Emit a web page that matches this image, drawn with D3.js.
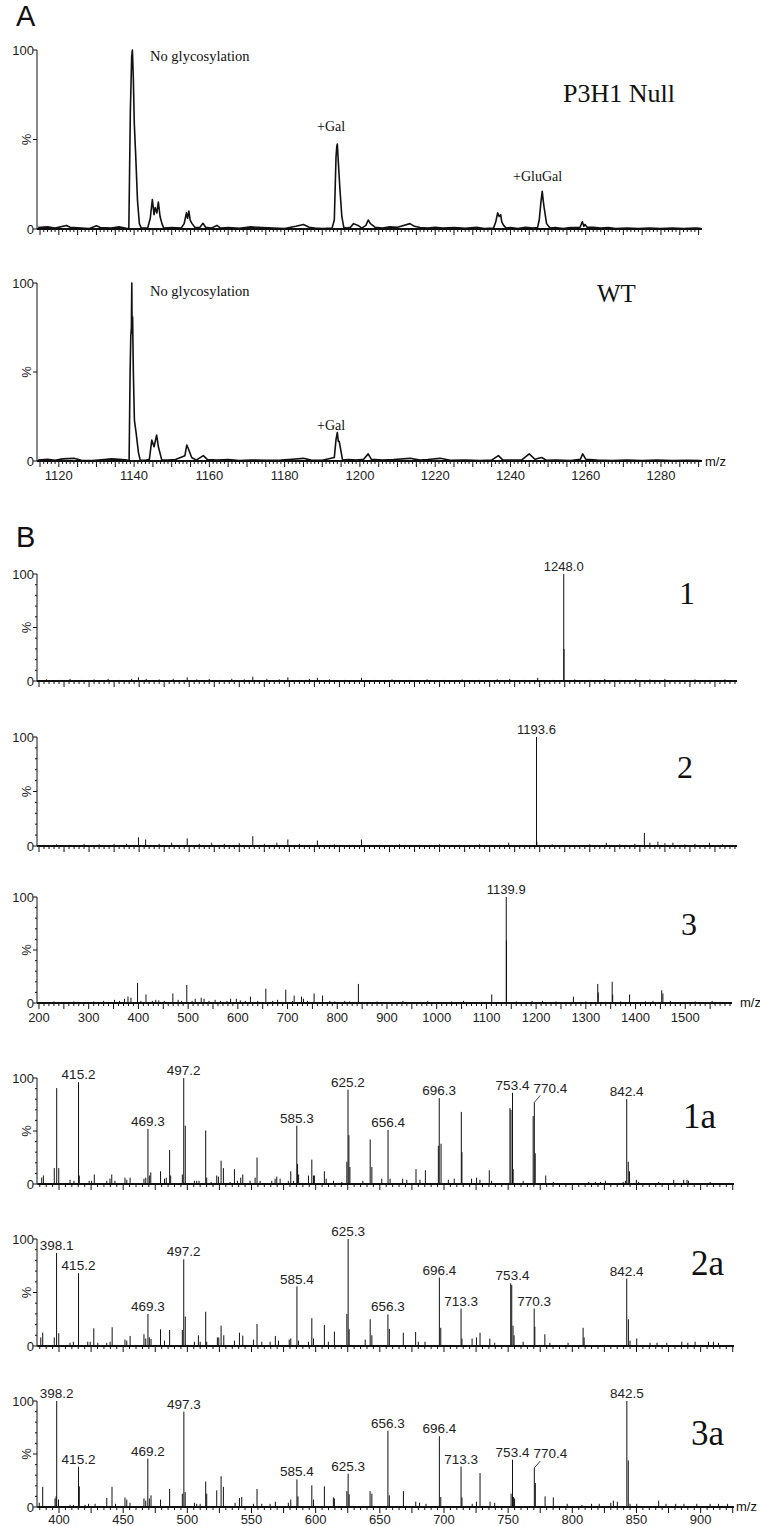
<!DOCTYPE html>
<html>
<head>
<meta charset="utf-8">
<script src="https://cdn.jsdelivr.net/npm/d3@7"></script>
<style>
  body { margin: 0; background: #fff; }
  .sans { font-family: "Liberation Sans", Arial, sans-serif; }
  .serif { font-family: "Liberation Serif", "Times New Roman", serif; }
</style>
</head>
<body>
<svg id="fig" width="760" height="1526"></svg>
<script>
// ---------- panel A : profile spectra, [m/z, %] ----------
const nullProfile = [
  [1114.5,0.8],[1117,1.2],[1119,0.5],[1122,2.0],[1123,1.0],[1126,0.6],[1128,0.2],[1130,1.8],[1131,0.8],[1134,0.5],[1136,1.2],[1138.2,0.3],
  [1138.6,0],[1139.0,65],[1139.35,96],[1139.55,100],[1139.8,84],[1140.05,59],[1140.45,40],[1140.9,16],[1141.4,3],[1141.9,0.5],
  [1143.6,0.5],[1144.3,6],[1144.85,16.5],[1145.3,8],[1145.6,12],[1146.05,9],[1146.45,15],[1146.9,7],[1147.4,3],[1147.9,0.5],
  [1150,0.8],[1152.5,0.5],[1153.3,3],[1153.9,9],[1154.2,6],[1154.55,10],[1154.9,5],[1155.4,3],[1156.2,0.8],
  [1157.5,1.0],[1158.3,3.2],[1159.0,1.0],[1160.5,0.5],[1162,2.0],[1163,0.5],[1165,0.8],[1168,0.4],[1171,1.2],[1174,0.8],[1177,0.5],
  [1180,0.3],[1183,1.5],[1185,2.5],[1186.5,1.0],[1188,0.5],[1190,0.3],
  [1192.6,0.5],[1193.2,5],[1193.65,40],[1193.85,46],[1194.0,47.5],[1194.25,38],[1194.7,22],[1195.2,7],[1195.7,1],[1196.5,0.5],
  [1197.5,1],[1198.3,3],[1199.5,2],[1200.5,0.5],[1201.6,2],[1202.2,5],[1202.8,3],[1204,1],[1206,0.5],[1208,1.2],[1210,1.0],
  [1213.3,3],[1214.5,1.5],[1216,0.8],[1218,0.5],[1220,1.0],[1222,0.5],[1225,0.8],[1228,0.4],[1231,0.9],[1233,0.3],
  [1235.5,0.5],[1236.1,4],[1236.6,9],[1237.0,7],[1237.4,8],[1237.7,4],[1238.2,2],[1238.9,0.5],[1240,0.8],[1242,0.3],[1244,1.0],[1246,0.5],
  [1247.2,0.8],[1247.65,5],[1248.1,15],[1248.45,21],[1248.7,16],[1248.95,12],[1249.6,3],[1250.5,0.5],[1252,0.8],[1254,0.3],[1256,0.8],
  [1258.5,1.0],[1259.1,4],[1259.5,1.5],[1259.8,2.5],[1260.4,1],[1262,1.0],[1264,0.5],[1266,0.8],[1268,0.3],[1271,0.5],[1274,0.3],
  [1277,0.6],[1280,0.3],[1283,0.5],[1286,0.3],[1289,0.5],[1290.5,0.4]
];
const wtProfile = [
  [1114.5,0.6],[1117,1.0],[1119,0.4],[1121,1.2],[1124,1.5],[1126,0.4],[1129,0.3],[1132,0.8],[1134,1.2],[1136,1.0],[1138.2,0.5],
  [1138.67,0],[1138.94,50],[1139.12,70],[1139.28,75],[1139.39,100],[1139.47,72],[1139.6,81],[1139.81,49],[1140.08,23],[1140.53,16],[1141.14,5],[1141.6,0.5],
  [1143,0.4],[1144.07,1],[1144.7,11.8],[1145.3,8],[1146.0,14.6],[1146.45,8],[1147.36,0.5],[1149,0.5],[1151,0.8],
  [1153.5,3],[1154.0,9],[1154.4,7],[1155.3,2],[1156.5,0.5],[1158.4,3],[1159.5,0.8],[1162,0.5],[1165,0.8],[1168,0.3],[1171,0.6],
  [1175,0.4],[1179,0.5],[1182,1.0],[1185,1.5],[1187,0.5],[1190,0.4],
  [1193.2,2],[1193.65,12],[1194.0,16],[1194.26,11],[1194.5,11],[1195.4,0.5],[1197,0.8],[1199,0.5],[1201,1.0],[1202.2,4],[1203,1],
  [1206,0.5],[1209,0.8],[1213.3,1.5],[1216,0.5],[1218,0.8],[1221.3,1.5],[1224,0.4],[1228,0.6],[1232,0.3],[1235,0.5],
  [1236.8,3],[1238,0.5],[1241,0.5],[1243,0.6],[1245.0,4],[1246.5,1],[1248.3,2],[1249.5,0.4],[1252,0.5],[1256,0.3],
  [1258.6,1.0],[1259.2,4],[1260,1],[1263,0.5],[1267,0.3],[1271,0.5],[1275,0.3],[1279,0.5],[1283,0.3],[1287,0.4],[1290.5,0.3]
];
const aTickLabels = [1120, 1140, 1160, 1180, 1200, 1220, 1240, 1260, 1280];

// ---------- panel B : MS spectra (sticks), [m/z, %] ----------
const ms1Peaks = [
  [1248.0,100],[1248.5,30],
  [215,1.5],[240,1],[262,2],[285,1],[310,1.5],[338,2],[360,1],[385,2],[398.6,3.5],[414,2],[440,1.5],[468,2],[496,3.5],[515,1.5],
  [540,2],[560,1],[585,2],[610,1.5],[627,4],[655,2],[680,1.5],[697,3.5],[720,1],[740,2],[756,3],[780,1.5],[810,1],[844,3],
  [870,1],[905,1.5],[940,1],[975,1.5],[1010,1],[1045,1.5],[1080,1],[1115,1.5],[1140,2],[1170,1],[1196,3],[1225,1],[1270,1.5],
  [1300,1],[1330,2],[1360,1],[1392,2],[1420,1.5],[1450,2],[1480,1],[1510,1.5],[1540,1],[1570,1.5]
];
const ms2Peaks = [
  [1193.6,100],[1194.3,4],[1409,12],
  [210,1],[235,1.5],[260,1],[290,2],[320,1.5],[350,2],[375,2],[398.6,8],[413,6],[440,2],[465,3],[496,7],[520,2],[545,3],[570,2],
  [600,2.5],[627,9],[650,2],[675,3],[697,6],[720,2],[756,5],[790,1.5],[820,1],[844,6],[880,1],[920,1.5],[960,1],[1000,1.5],
  [1040,1],[1080,1.5],[1120,1],[1138,3],[1165,1],[1225,1.5],[1260,1],[1300,1.5],[1333,3],[1360,1.5],[1390,2],[1420,3],[1436,4],
  [1450,2.5],[1466,3],[1490,1.5],[1510,2],[1539,3],[1565,1.5],[1585,1]
];
const ms3Peaks = [
  [1139.9,100],[1140.4,59],
  [398.2,19],[415.2,8],[469.3,9],[497.3,17],[514.3,4],[526.3,5],[554.3,3],[585.4,4],[597,4],[625.3,6],[656.3,13.5],[696.4,12.6],
  [713.3,7],[728.1,6],[753.4,9],[770.4,7],[842.5,18],
  [208,1],[230,1.5],[245,1],[270,1.5],[290,1],[310,1.5],[330,2],[352,3],[362,2],[372,4],[379,6],[385,5],[405,2],[428,2],[435,3],
  [441,2.5],[452,2],[480,3],[487,2],[508,2],[532,4],[542,2],[565,2],[578,2],[605,2.5],[615,2],[640,2],[670,2],[680,3],[710,2],
  [732,4],[740,2],[785,2],[795,1.5],[815,2],[825,1.5],[860,1],[880,1.5],[905,1],[932,2],[955,1],[982,2],[1010,1],[1030,1.5],
  [1054,2],[1080,1],[1110.7,8],[1160,1.5],[1192,2],[1213,2],[1240,1.5],[1260,1],[1275,6],[1300,1.5],[1324,18],[1325,10],[1340,1],
  [1353,20],[1354,8],[1370,1.5],[1388,8],[1405,1],[1420,1.5],[1435,2],[1452.6,12],[1455,9],[1470,2],[1490,1],[1520,1.5],[1554,2],[1575,1]
];
const ms1Labels = [[1248.0, "1248.0"]];
const ms2Labels = [[1193.6, "1193.6"]];
const ms3Labels = [[1139.9, "1139.9"]];
const bTickLabels = [200,300,400,500,600,700,800,900,1000,1100,1200,1300,1400,1500];

// ---------- panel B : MS/MS spectra (sticks), [m/z, %] ----------
const msms1Peaks = [
  [386.5,6],[387.8,8],[396.3,15],[398.2,90.5],[399.8,15],[408.6,4],[411.7,3],[415.2,96],[415.8,8],[423.5,3],[425.4,3],[427.5,9],
  [437.2,3],[439.7,5],[441.1,9],[443.6,3],[451.4,6],[452.8,4],[455.4,6],[466.2,5],[467.6,6],[469.3,52],[470.4,8],[471.5,11],
  [479.1,12],[482.2,5],[483.6,6],[486.2,32],[487,8],[496.1,9],[497.2,100],[498.4,55],[505.5,3],[507.3,3],[509.1,3],[514.3,50.5],
  [515.1,6],[518.5,2],[522.9,8],[524.2,7],[526.3,22],[528.1,15],[533.3,2],[536.7,14],[539,3],[541.6,6],[543.2,9],[548.9,3],
  [552.8,6],[554.3,25],[556.7,3],[565.8,3],[568.4,5],[569.7,7],[572.3,5],[578.7,3],[580.6,12],[582.7,3],[585.3,55],[585.9,19],
  [586.7,9],[594.4,8],[597,23],[598.3,8],[599,8],[606.8,12],[608.2,5],[613.9,3],[620.4,2],[624.3,21],[625.2,89],[625.9,46],
  [626.7,16],[636.8,3],[642.5,42],[643.8,16],[651.5,5],[656.4,51],[658,5],[667.8,5],[671,4],[678.2,14],[681.3,4],[685.5,13],
  [695.6,36],[696.3,81],[697.7,38],[703.4,4],[708,5],[713.5,68],[714,30],[721.5,5],[725.4,6],[728,4],[735.3,13],[737.1,3],
  [751.4,71.6],[752.2,70],[753.4,86],[753.9,14],[761.7,3],[769.5,64],[770.4,77],[771.1,29],[779.3,8],[785.2,2],[812.8,2],
  [818,2],[821.9,2],[825.8,3],[839.6,2],[841.4,3],[842.4,80],[843.6,21],[844.6,12],[849.9,4],[851.7,2],[867.3,2],[879,4],
  [886.8,4],[889.4,4],[890.6,3],[907.4,2]
];
const msms2Peaks = [
  [385.8,8],[387.3,12.5],[396.3,8],[398.1,87],[399.8,12],[408.6,3],[411.2,4],[415.2,68],[422.4,4],[424.3,4],[427.1,16.5],[430.2,3],
  [437.2,3],[439.8,4],[441.4,17.5],[451.4,6],[452.8,5],[455.4,9.4],[466.2,11],[467.6,7],[469.3,30],[470.4,8],[471.7,6.5],
  [479.1,15.6],[482.2,5],[486.2,15],[496.1,15],[497.2,81],[498.4,27.5],[505.5,4],[508.6,10],[510,4],[514.3,32],[515.1,4],
  [523.4,8],[524.5,8],[526.3,19],[528.4,10],[536.7,5],[540.6,12.5],[543.2,9.7],[551.5,6],[554.3,20.6],[558,4],[564.5,4],
  [568.6,9.4],[571,5],[579.4,6],[580.6,7],[585.4,55.6],[586.6,5],[594.4,4],[597,26],[598.3,7],[606.8,19.7],[609.9,4],[614.6,13.4],
  [624.3,30],[625.3,100],[626.1,15.6],[638.6,6],[642.5,25],[643.8,10],[656.3,29.5],[657.4,16],[668.3,12.4],[677.9,13],[680,4],
  [685.2,4],[696.4,64],[697.5,17],[713.3,35],[714,7],[721.9,7],[725.3,8],[728.1,12.4],[735.7,7],[739.5,3],[752,58.5],[752.8,57],
  [753.8,19],[754.6,10],[761.7,4],[770.3,35],[770.8,18],[778.6,11],[782.5,3],[796.7,3],[808.4,17],[809.2,8],[842.4,63],
  [843.7,25],[845,5],[850.2,7],[860.6,3],[866,3],[873.6,3],[885.3,4],[890,3],[895.7,4],[906.1,4],[910,4],[913.9,3]
];
const msms3Peaks = [
  [384.6,4],[387.3,19],[396.9,8],[397.7,10],[398.2,100],[399.6,7],[408.6,2],[411.2,2],[415.2,38],[415.8,19.5],[420.3,2],[423,3],
  [428.1,3],[437.2,8.5],[441.3,19],[444,3],[451.4,9],[452.8,7],[455.3,4],[466.2,8],[467.6,6],[469.2,45.6],[470.4,8],[471.7,11],
  [479.1,7],[486.2,17],[496.1,12.6],[497.3,90],[498.3,14],[505.5,4],[507.3,3],[510,3],[514.3,24],[515.1,12.6],[522.9,15.7],
  [526.3,29],[528.1,19],[537.2,4],[540.6,8.5],[542.4,9.4],[551.5,3],[554.3,17],[558,3],[564.5,3],[568.6,5],[578.7,4],[580.6,7],
  [585.4,26],[586.2,10],[597,20.4],[598.3,7],[606.8,19.5],[613.8,9],[614.6,8],[624.3,15],[625.3,31.4],[626.1,12],[642.4,15],
  [643.8,12.6],[656.3,72],[657.4,11],[668.4,15],[678,5],[681,4],[686,3],[696.4,66.7],[697.5,9.4],[713.3,38],[714,9],[722,3],
  [725.3,5],[728.1,32],[735.9,5],[739.5,4],[752.3,12.6],[753.4,44.6],[754.1,9.4],[755,8],[770.4,36.8],[771.2,22.6],[778.8,10],
  [785.2,9],[796,3],[807.5,2],[815,3],[821,3],[830,4],[832,6],[835.1,5],[842.5,100],[843.6,44],[845,3],[850.2,3],[867.3,6],
  [873,3],[880.6,3],[887,3],[897,3],[907.4,3],[914,3],[921,3]
];
const msms1Labels = [[415.2,"415.2"],[469.3,"469.3"],[497.2,"497.2"],[585.3,"585.3"],[625.2,"625.2"],[656.4,"656.4"],
  [696.3,"696.3"],[753.4,"753.4"],[770.4,"770.4"],[842.4,"842.4"]];
const msms2Labels = [[398.1,"398.1"],[415.2,"415.2"],[469.3,"469.3"],[497.2,"497.2"],[585.4,"585.4"],[625.3,"625.3"],
  [656.3,"656.3"],[696.4,"696.4"],[713.3,"713.3"],[753.4,"753.4"],[770.3,"770.3"],[842.4,"842.4"]];
const msms3Labels = [[398.2,"398.2"],[415.2,"415.2"],[469.2,"469.2"],[497.3,"497.3"],[585.4,"585.4"],[625.3,"625.3"],
  [656.3,"656.3"],[696.4,"696.4"],[713.3,"713.3"],[753.4,"753.4"],[770.4,"770.4"],[842.5,"842.5"]];
const lowTickLabels = [400,450,500,550,600,650,700,750,800,850,900];

// ---------- drawing ----------
const svg = d3.select("#fig");
const INK = "#111";

function yAxis(y, minor) {
  const g = svg.append("g");
  g.append("line").attr("x1", 37).attr("x2", 37).attr("y1", y(0)).attr("y2", y(100))
    .attr("stroke", INK).attr("stroke-width", 1);
  const ticks = minor ? d3.range(0, 101, 10) : [0, 50, 100];
  ticks.forEach(t => {
    const len = (t % 50 === 0) ? 4 : 2;
    g.append("line").attr("x1", 37 - len).attr("x2", 37).attr("y1", y(t)).attr("y2", y(t))
      .attr("stroke", INK).attr("stroke-width", 1);
  });
  g.append("text").attr("class", "sans").attr("x", 34).attr("y", y(100) + 4.5)
    .attr("text-anchor", "end").attr("font-size", 13).attr("fill", "#222").text("100");
  g.append("text").attr("class", "sans").attr("x", 34).attr("y", y(0) + 4.5)
    .attr("text-anchor", "end").attr("font-size", 13).attr("fill", "#222").text("0");
  g.append("text").attr("class", "sans")
    .attr("transform", `translate(31,${y(50)}) rotate(-90)`)
    .attr("text-anchor", "middle").attr("font-size", 13).attr("fill", "#222").text("%");
}

function xAxis(x, y0, minorStep, majorStep, labels, labelY) {
  const g = svg.append("g");
  const [d0, d1] = x.domain();
  g.append("line").attr("x1", x.range()[0]).attr("x2", x.range()[1]).attr("y1", y0).attr("y2", y0)
    .attr("stroke", INK).attr("stroke-width", 1.8);
  const start = Math.ceil(d0 / minorStep) * minorStep;
  for (let v = start; v <= d1 + 1e-9; v += minorStep) {
    const isMajor = Math.abs(v / majorStep - Math.round(v / majorStep)) < 1e-6;
    g.append("line").attr("x1", x(v)).attr("x2", x(v)).attr("y1", y0).attr("y2", y0 + (isMajor ? 6 : 3))
      .attr("stroke", INK).attr("stroke-width", 1);
  }
  if (labels) {
    g.selectAll("text.tl").data(labels).enter().append("text")
      .attr("class", "sans").attr("x", d => x(d)).attr("y", labelY)
      .attr("text-anchor", "middle").attr("font-size", 13).attr("fill", "#222").text(d => d);
  }
}

function profile(x, y, data) {
  const line = d3.line().x(d => x(d[0])).y(d => y(d[1]));
  svg.append("path").datum(data).attr("d", line)
    .attr("fill", "none").attr("stroke", INK).attr("stroke-width", 1.6).attr("stroke-linejoin", "round");
}

function sticks(x, y, data, labels, fontSize, leaders) {
  const g = svg.append("g");
  g.selectAll("line.pk").data(data).enter().append("line")
    .attr("x1", d => x(d[0])).attr("x2", d => x(d[0]))
    .attr("y1", y(0)).attr("y2", d => y(d[1]))
    .attr("stroke", INK).attr("stroke-width", 1);
  labels.forEach(([m, txt]) => {
    const near = data.filter(d => Math.abs(d[0] - m) <= 1.5);
    const top = d3.max(near, d => d[1]);
    const px = x(m), py = y(top);
    if (leaders && leaders.includes(txt)) {
      g.append("line").attr("x1", px).attr("y1", py).attr("x2", px + 6).attr("y2", py - 7)
        .attr("stroke", INK).attr("stroke-width", 0.8);
      g.append("text").attr("class", "sans").attr("x", px + 16).attr("y", py - 9.5)
        .attr("text-anchor", "middle").attr("font-size", fontSize).attr("fill", "#222").text(txt);
    } else {
      g.append("text").attr("class", "sans").attr("x", px).attr("y", py - 3)
        .attr("text-anchor", "middle").attr("font-size", fontSize).attr("fill", "#222").text(txt);
    }
  });
}

function serifText(x, y, size, txt) {
  svg.append("text").attr("class", "serif").attr("x", x).attr("y", y)
    .attr("font-size", size).attr("fill", INK).text(txt);
}
function sansText(x, y, size, txt) {
  svg.append("text").attr("class", "sans").attr("x", x).attr("y", y)
    .attr("font-size", size).attr("fill", INK).text(txt);
}

// ---- Panel A ----
const xA = d3.scaleLinear().domain([1114.2, 1290.9]).range([37, 702]);
const yA1 = d3.scaleLinear().domain([0, 100]).range([229, 50]);
const yA2 = d3.scaleLinear().domain([0, 100]).range([461, 283]);

sansText(16, 26, 29, "A");
yAxis(yA1, false);
xAxis(xA, yA1(0), 1, 5, null);
profile(xA, yA1, nullProfile);
serifText(150, 61, 14.5, "No glycosylation");
serifText(317, 131, 14, "+Gal");
serifText(513, 181, 14, "+GluGal");
serifText(563, 102, 26, "P3H1 Null");

yAxis(yA2, false);
xAxis(xA, yA2(0), 1, 5, aTickLabels, 480);
profile(xA, yA2, wtProfile);
serifText(150, 296, 14.5, "No glycosylation");
serifText(317, 430, 14, "+Gal");
serifText(597, 302, 25, "WT");
sansText(705, 466, 13, "m/z");

// ---- Panel B, MS ----
const xB = d3.scaleLinear().domain([196, 1594]).range([37, 737]);
const xB3 = d3.scaleLinear().domain([196, 1594]).range([37, 732]);
const yB1 = d3.scaleLinear().domain([0, 100]).range([681, 574]);
const yB2 = d3.scaleLinear().domain([0, 100]).range([846, 737]);
const yB3 = d3.scaleLinear().domain([0, 100]).range([1003, 897]);

sansText(16, 547, 29, "B");
yAxis(yB1, true);
sticks(xB, yB1, ms1Peaks, ms1Labels, 13);
xAxis(xB, yB1(0), 10, 50, null);
serifText(679, 604, 32, "1");

yAxis(yB2, true);
sticks(xB, yB2, ms2Peaks, ms2Labels, 13);
xAxis(xB, yB2(0), 10, 50, null);
serifText(677, 778, 32, "2");

yAxis(yB3, true);
sticks(xB3, yB3, ms3Peaks, ms3Labels, 13);
xAxis(xB3, yB3(0), 10, 50, bTickLabels, 1022);
serifText(681, 935, 32, "3");
sansText(740, 1007, 13, "m/z");

// ---- Panel B, MS/MS ----
const xL = d3.scaleLinear().domain([383, 926]).range([37.2, 734]);
const yL1 = d3.scaleLinear().domain([0, 100]).range([1184, 1078]);
const yL2 = d3.scaleLinear().domain([0, 100]).range([1346, 1239]);
const yL3 = d3.scaleLinear().domain([0, 100]).range([1507, 1401]);

yAxis(yL1, true);
sticks(xL, yL1, msms1Peaks, msms1Labels, 13.5, ["770.4"]);
xAxis(xL, yL1(0), 5, 25, null);
serifText(683, 1128, 35, "1a");

yAxis(yL2, true);
sticks(xL, yL2, msms2Peaks, msms2Labels, 13.5);
xAxis(xL, yL2(0), 5, 25, null);
serifText(691, 1275, 35, "2a");

yAxis(yL3, true);
sticks(xL, yL3, msms3Peaks, msms3Labels, 13.5, ["770.4"]);
xAxis(xL, yL3(0), 5, 25, lowTickLabels, 1524);
serifText(691, 1445, 35, "3a");
sansText(736, 1511, 13, "m/z");
</script>
</body>
</html>
